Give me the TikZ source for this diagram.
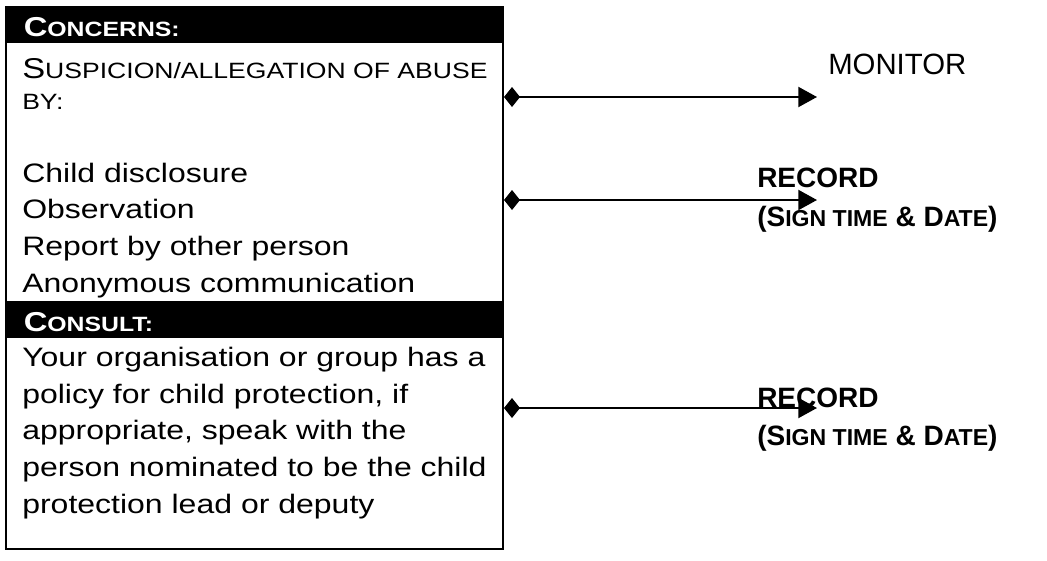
\documentclass[tikz,border=0pt]{standalone}
\usepackage{fontspec}
\setmainfont{Liberation Sans}[FakeStretch=1.2]
\newfontfamily\labelfont{Liberation Sans}
\usetikzlibrary{arrows.meta,positioning}
\newcommand\bodysc[1]{{\fontsize{16.6}{20}\selectfont #1}}
\newcommand\headsc[1]{{\fontsize{15.5}{18}\selectfont #1}}
\newcommand\labelsc[1]{{\fontsize{17.3}{20}\selectfont #1}}
\begin{document}
\begin{tikzpicture}[x=0.75pt,y=-0.75pt,
	frame/.style={draw,line width=1.5pt,minimum width=372.75pt,minimum height=406.5pt,inner sep=0pt,anchor=north west},
	header/.style={fill=black,text=white,font=\fontsize{20.5}{24}\selectfont\bfseries,minimum width=372.75pt,minimum height=27.75pt,text width=345pt,text height=17.25pt,text depth=0pt,align=left,inner xsep=13.5pt,inner ysep=0pt,anchor=north west},
	body/.style={font=\fontsize{20}{27.45}\selectfont,align=left,inner sep=0pt,anchor=base west},
	link/.style={line width=1.5pt,{Diamond[length=12pt,width=15pt]}-{Triangle[length=14pt,width=15pt]}}]
	\useasboundingbox (0,0) rectangle (1047,561);
	% left box (body nodes sit on their last baseline)
	\node[frame] (frame) at (5,6) {};
	\node[header] (concerns) at (5,6) {C\headsc{ONCERNS:}};
	\node[header] (consult) at (5,301) {C\headsc{ONSULT:}};
	\node[body] (concernlist) at (22,292) {{\fontsize{21.5}{24}\selectfont S}\bodysc{USPICION/ALLEGATION OF ABUSE}\\[-4.2pt]\bodysc{BY:}\\[27.45pt]Child disclosure\\Observation\\Report by other person\\Anonymous communication};
	\node[body] (consultnote) at (22,513) {Your organisation or group has a\\policy for child protection, if\\appropriate, speak with the\\person nominated to be the child\\protection lead or deputy};
	% outcomes
	\begin{scope}[every node/.style={font=\labelfont\fontsize{22}{29}\selectfont,align=left,inner sep=0pt,anchor=base west}]
	\node (monitor) at (828,74) {MONITOR};
	\node[font=\labelfont\fontsize{21}{29}\selectfont\bfseries] (recordA) at (757,226) {RECORD\\(S\labelsc{IGN TIME} \& D\labelsc{ATE})};
	\node[font=\labelfont\fontsize{21}{28.5}\selectfont\bfseries] (recordB) at (757,445) {RECORD\\(S\labelsc{IGN TIME} \& D\labelsc{ATE})};
	\end{scope}
	\coordinate (monitortip) at (817,97);
	\coordinate (recordtipA) at (817,200);
	\coordinate (recordtipB) at (817,408);
	\foreach \t in {monitortip,recordtipA,recordtipB}
	\draw[link] (frame.east |- \t) -- (\t);
\end{tikzpicture}
\end{document}
